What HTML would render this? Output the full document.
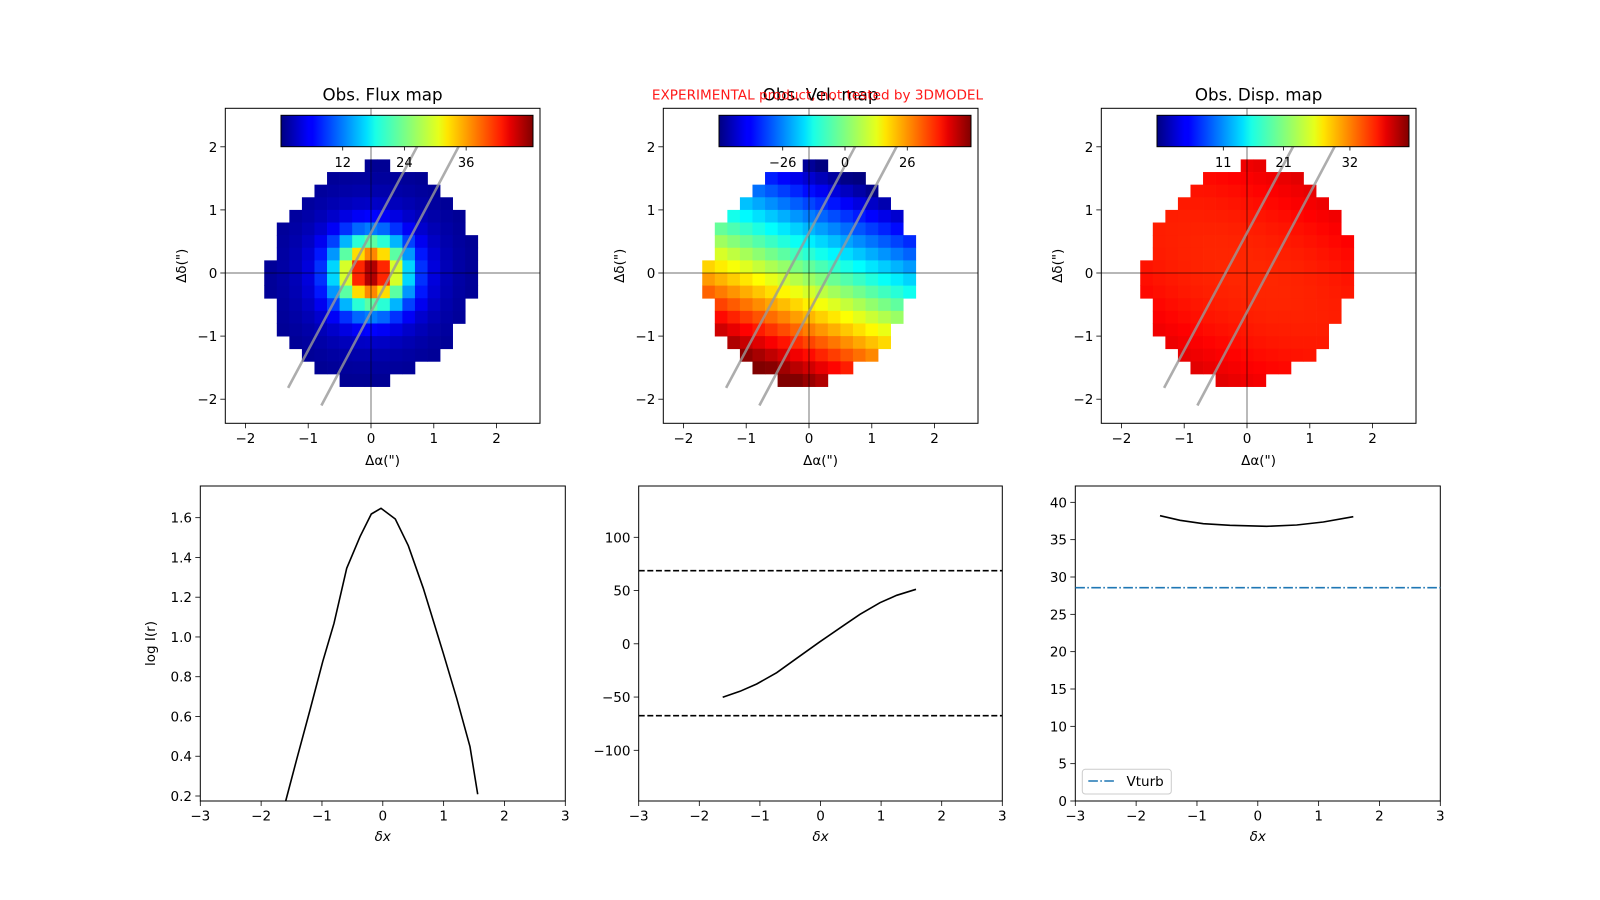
<!DOCTYPE html>
<html><head><meta charset="utf-8"><style>
html,body{margin:0;padding:0;background:#fff;}
svg{display:block;font-family:"DejaVu Sans","Liberation Sans",sans-serif;}
</style></head><body>
<svg id="s" width="1600" height="900" viewBox="0 0 1600 900" xmlns="http://www.w3.org/2000/svg">
<defs>
<linearGradient id="jet" x1="0" x2="1" y1="0" y2="0">
<stop offset="0" stop-color="#000080"/><stop offset="0.11" stop-color="#0000ff"/>
<stop offset="0.125" stop-color="#0000ff"/><stop offset="0.34" stop-color="#00e0ff"/>
<stop offset="0.375" stop-color="#1affe6"/><stop offset="0.5" stop-color="#80ff80"/>
<stop offset="0.625" stop-color="#e6ff1a"/><stop offset="0.66" stop-color="#ffe600"/>
<stop offset="0.875" stop-color="#ff1a00"/><stop offset="0.91" stop-color="#e60000"/>
<stop offset="1" stop-color="#800000"/>
</linearGradient>
<clipPath id="c0"><rect x="225.3" y="108.3" width="314.7" height="315"/></clipPath>
<clipPath id="c1"><rect x="663.3" y="108.3" width="314.7" height="315"/></clipPath>
<clipPath id="c2"><rect x="1101.3" y="108.3" width="314.7" height="315"/></clipPath>
</defs>
<g id="maps"></g>
<g font-size="16.7" fill="#000" text-anchor="middle">
<text x="382.6" y="100.5">Obs. Flux map</text>
<text x="820.6" y="100.5">Obs. Vel. map</text>
<text x="1258.6" y="100.5">Obs. Disp. map</text>
</g>
<text x="817.5" y="99.5" font-size="13.6" fill="#ff0000" fill-opacity="0.9" text-anchor="middle">EXPERIMENTAL product, not tested by 3DMODEL</text>
<g font-size="13.5" text-anchor="middle">
<text x="382.6" y="465">Δα(")</text><text x="820.6" y="465">Δα(")</text><text x="1258.6" y="465">Δα(")</text>
<text transform="translate(186,265.8) rotate(-90)">Δδ(")</text>
<text transform="translate(624,265.8) rotate(-90)">Δδ(")</text>
<text transform="translate(1062,265.8) rotate(-90)">Δδ(")</text>
</g>
<g font-size="13.5" font-style="italic" text-anchor="middle">
<text x="382.8" y="841">δx</text><text x="820.5" y="841">δx</text><text x="1257.8" y="841">δx</text>
</g>
<text transform="translate(155,643.5) rotate(-90)" font-size="13.5" text-anchor="middle">log I(r)</text>
<g id="bot"></g>
</svg>
<script>
var S=document.getElementById('s'),M=document.getElementById('maps'),B=document.getElementById('bot');
function el(p,n,a,t){var e=document.createElementNS('http://www.w3.org/2000/svg',n);for(var k in a)e.setAttribute(k,a[k]);if(t!==undefined)e.textContent=t;p.appendChild(e);return e;}
function cl(v){return Math.max(0,Math.min(1,v));}
function jet(t){t=cl(t);var r=cl(1.5-Math.abs(4*t-3)),g=cl(1.5-Math.abs(4*t-2)),b=cl(1.5-Math.abs(4*t-1));
return 'rgb('+Math.round(r*255)+','+Math.round(g*255)+','+Math.round(b*255)+')';}
var rows=[[1.7,0,1],[1.5,-3,4],[1.3,-4,5],[1.1,-5,6],[0.9,-6,7],[0.7,-7,7],[0.5,-7,8],[0.3,-7,8],[0.1,-8,8],[-0.1,-8,8],[-0.3,-8,8],[-0.5,-7,7],[-0.7,-7,7],[-0.9,-7,6],[-1.1,-6,6],[-1.3,-5,5],[-1.5,-4,3],[-1.7,-2,1]];
var funcs=[
 function(x,y){var r2=x*x+y*y;return (40*Math.exp(-r2/0.28)+6*Math.exp(-r2/0.9)+2*Math.exp(-r2/3))/49;},
 function(x,y){var p=0.4*x+0.92*y;var v=-32*p;return (v+52.6)/105.2;},
 function(x,y){var p=0.4*x+0.92*y;var d=35+0.9*p*p+0.2*(x*x);return d/41.8;}
];
var cb=[[[12,24,36],0,49],[[-26,0,26],-52.6,52.6],[[11,21,32],0,41.8]];
for(var k=0;k<3;k++){
 var ox=438*k,X0=371+ox;
 function X(x){return X0+62.8*x;} function Y(y){return 273-63.1*y;}
 var L=225.3+ox,R=540+ox,T=108.3,Bt=423.3;
 var g=el(M,'g',{'clip-path':'url(#c'+k+')'});
 rows.forEach(function(r){for(var i=r[1];i<=r[2];i++){var x=0.2*i,y=r[0];
  el(g,'rect',{x:X(x-0.1).toFixed(2),y:Y(y+0.1).toFixed(2),width:12.9,height:13,fill:jet(funcs[k](x,y))});}});
 el(g,'line',{x1:L,x2:R,y1:273,y2:273,stroke:'#000','stroke-opacity':0.45,'stroke-width':1.2});
 el(g,'line',{x1:X0,x2:X0,y1:T,y2:Bt,stroke:'#000','stroke-opacity':0.45,'stroke-width':1.2});
 el(g,'line',{x1:X(-1.32),y1:Y(-1.82),x2:X(0.84),y2:Y(2.2),stroke:'#999','stroke-opacity':0.8,'stroke-width':2.6});
 el(g,'line',{x1:X(-0.79),y1:Y(-2.1),x2:X(1.5),y2:Y(2.2),stroke:'#999','stroke-opacity':0.8,'stroke-width':2.6});
 var cx0=281+ox,cw=252;
 el(M,'rect',{x:cx0,y:115.3,width:cw,height:31.4,fill:'url(#jet)',stroke:'#000','stroke-width':1});
 var c=cb[k];c[0].forEach(function(v){var px=cx0+(v-c[1])/(c[2]-c[1])*cw;
  el(M,'line',{x1:px,x2:px,y1:146.7,y2:150.5,stroke:'#000','stroke-width':0.8});
  el(M,'text',{x:px,y:167,'font-size':'13','text-anchor':'middle'},v<0?'\u2212'+(-v):''+v);});
 el(M,'rect',{x:L,y:T,width:R-L,height:Bt-T,fill:'none',stroke:'#000','stroke-width':1});
 for(var t=-2;t<=2;t++){
  el(M,'line',{x1:X(t),x2:X(t),y1:Bt,y2:Bt+5,stroke:'#000','stroke-width':0.8});
  el(M,'text',{x:X(t),y:Bt+19.5,'font-size':'13.5','text-anchor':'middle'},t<0?'\u2212'+(-t):''+t);
  el(M,'line',{x1:L-5,x2:L,y1:Y(t),y2:Y(t),stroke:'#000','stroke-width':0.8});
  el(M,'text',{x:L-8,y:Y(t)+5,'font-size':'13.5','text-anchor':'end'},t<0?'\u2212'+(-t):''+t);
 }
}
function zp(pts,bx,by){return pts.map(function(p){return (bx+p[0]/3).toFixed(1)+','+(by+p[1]/3).toFixed(1);}).join(' ');}
function frame(L,R){var T=486,Bt=801;el(B,'rect',{x:L,y:T,width:R-L,height:Bt-T,fill:'none',stroke:'#000','stroke-width':1});
 for(var t=-3;t<=3;t++){var px=L+(t+3)/6*(R-L);el(B,'line',{x1:px,x2:px,y1:Bt,y2:Bt+5,stroke:'#000','stroke-width':0.8});
 el(B,'text',{x:px,y:Bt+19.5,'font-size':'13.5','text-anchor':'middle'},t<0?'\u2212'+(-t):''+t);}}
frame(200.3,565.3);
[[0.2,'0.2'],[0.4,'0.4'],[0.6,'0.6'],[0.8,'0.8'],[1.0,'1.0'],[1.2,'1.2'],[1.4,'1.4'],[1.6,'1.6']].forEach(function(v){var py=796-(v[0]-0.2)*198.8;
 el(B,'line',{x1:195.3,x2:200.3,y1:py,y2:py,stroke:'#000','stroke-width':0.8});el(B,'text',{x:192,y:py+5,'font-size':'13.5','text-anchor':'end'},v[1]);});
el(B,'polyline',{points:zp([[437,963],[470,838],[510,690],[548,545],[582,430],[620,265],[660,170],[694,102],[723,85],[766,117],[805,197],[850,325],[870,390],[910,520],[950,655],[990,800],[1013,943]],140,480),fill:'none',stroke:'#000','stroke-width':1.6});
frame(638.7,1002.3);
[[100,'100'],[50,'50'],[0,'0'],[-50,'\u221250'],[-100,'\u2212100']].forEach(function(v){var py=643.8-v[0]*(639/3/200);
 el(B,'line',{x1:633.7,x2:638.7,y1:py,y2:py,stroke:'#000','stroke-width':0.8});el(B,'text',{x:630.5,y:py+5,'font-size':'13.5','text-anchor':'end'},v[1]);});
el(B,'line',{x1:638.7,x2:1002.3,y1:480+272/3,y2:480+272/3,stroke:'#000','stroke-width':1.6,'stroke-dasharray':'6,2.6'});
el(B,'line',{x1:638.7,x2:1002.3,y1:480+707/3,y2:480+707/3,stroke:'#000','stroke-width':1.6,'stroke-dasharray':'6,2.6'});
el(B,'polyline',{points:zp([[398,652],[450,634],[500,612],[560,578],[620,535],[690,485],[760,437],[810,403],[870,368],[920,346],[978,328]],590,480),fill:'none',stroke:'#000','stroke-width':1.6});
frame(1075.3,1440.3);
for(var v=0;v<=40;v+=5){var py=801-v*(896/3/40);
 el(B,'line',{x1:1070.3,x2:1075.3,y1:py,y2:py,stroke:'#000','stroke-width':0.8});el(B,'text',{x:1067,y:py+5,'font-size':'13.5','text-anchor':'end'},''+v);}
el(B,'line',{x1:1075.3,x2:1440.3,y1:480+323/3,y2:480+323/3,stroke:'#1f77b4','stroke-width':1.6,'stroke-dasharray':'9.6,2.4,1.6,2.4'});
el(B,'polyline',{points:zp([[390,107],[450,121],[520,131],[600,136],[710,139],[800,135],[880,126],[970,110]],1030,480),fill:'none',stroke:'#000','stroke-width':1.6});
el(B,'rect',{x:1082.3,y:769.3,width:89,height:24.7,rx:3,fill:'#fff','fill-opacity':0.8,stroke:'#ccc','stroke-width':1});
el(B,'line',{x1:1088.3,x2:1116,y1:781,y2:781,stroke:'#1f77b4','stroke-width':1.6,'stroke-dasharray':'9.6,2.4,1.6,2.4'});
el(B,'text',{x:1126.5,y:786,'font-size':'13.5'},'Vturb');
</script>
</body></html>
